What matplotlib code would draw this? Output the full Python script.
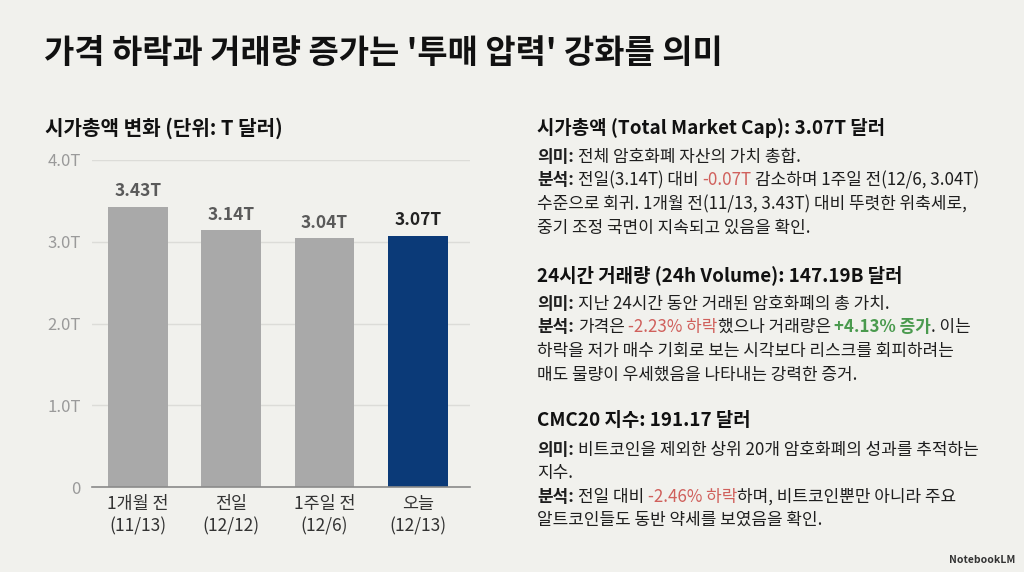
import matplotlib
matplotlib.use("Agg")
import matplotlib.pyplot as plt

plt.rcParams['font.family'] = ['Noto Sans CJK KR', 'DejaVu Sans']

# Data
categories = ['1개월 전\n(11/13)', '전일\n(12/12)', '1주일 전\n(12/6)', '오늘\n(12/13)']
market_cap = [3.43, 3.14, 3.04, 3.07]
bar_labels = ['3.43T', '3.14T', '3.04T', '3.07T']
yticks = [0, 1, 2, 3, 4]
ytick_labels = ['0', '1.0T', '2.0T', '3.0T', '4.0T']

title = "가격 하락과 거래량 증가는 '투매 압력' 강화를 의미"
chart_title = "시가총액 변화 (단위: T 달러)"

RED = '#d0605c'
GREEN = '#4a9a4e'
DARK = '#1e1e1e'

# right side text blocks: (heading, [lines of runs])
sections = [
    ("시가총액 (Total Market Cap): 3.07T 달러", [
        [("의미:", DARK, 'bold'), (" 전체 암호화폐 자산의 가치 총합.", DARK, 'normal')],
        [("분석:", DARK, 'bold'), (" 전일(3.14T) 대비 ", DARK, 'normal'), ("-0.07T", RED, 'normal'),
         (" 감소하며 1주일 전(12/6, 3.04T)", DARK, 'normal')],
        [("수준으로 회귀. 1개월 전(11/13, 3.43T) 대비 뚜렷한 위축세로,", DARK, 'normal')],
        [("중기 조정 국면이 지속되고 있음을 확인.", DARK, 'normal')],
    ]),
    ("24시간 거래량 (24h Volume): 147.19B 달러", [
        [("의미:", DARK, 'bold'), (" 지난 24시간 동안 거래된 암호화폐의 총 가치.", DARK, 'normal')],
        [("분석:", DARK, 'bold'), (" 가격은 ", DARK, 'normal'), ("-2.23% 하락", RED, 'normal'),
         ("했으나 거래량은 ", DARK, 'normal'), ("+4.13% 증가", GREEN, 'bold'), (". 이는", DARK, 'normal')],
        [("하락을 저가 매수 기회로 보는 시각보다 리스크를 회피하려는", DARK, 'normal')],
        [("매도 물량이 우세했음을 나타내는 강력한 증거.", DARK, 'normal')],
    ]),
    ("CMC20 지수: 191.17 달러", [
        [("의미:", DARK, 'bold'), (" 비트코인을 제외한 상위 20개 암호화폐의 성과를 추적하는", DARK, 'normal')],
        [("지수.", DARK, 'normal')],
        [("분석:", DARK, 'bold'), (" 전일 대비 ", DARK, 'normal'), ("-2.46% 하락", RED, 'normal'),
         ("하며, 비트코인뿐만 아니라 주요", DARK, 'normal')],
        [("알트코인들도 동반 약세를 보였음을 확인.", DARK, 'normal')],
    ]),
]
heading_y = [128, 275, 421]
line_y = [[157, 180, 204, 228], [304, 327, 351, 375], [450, 473, 497, 520]]

W, H = 1024, 572
BG = '#f1f1ed'

fig = plt.figure(figsize=(W / 100, H / 100), dpi=100, facecolor=BG)
renderer = fig.canvas.get_renderer()


def fy(py):
    return 1 - py / H


# Title
fig.text(44 / W, fy(53), title, fontsize=23.7, fontweight='bold', color='#111111', va='center')
fig.text(45 / W, fy(128), chart_title, fontsize=14.5, fontweight='bold', color='#111111', va='center')

# Bar chart
ax = fig.add_axes([92 / W, fy(487), (470 - 92) / W, (487 - 160) / H])
ax.set_facecolor(BG)
colors = ['#a9a9a9', '#a9a9a9', '#a9a9a9', '#0b3a78']
x = range(len(categories))
ax.bar(x, market_cap, width=0.64, color=colors, zorder=3)
for i, v in enumerate(market_cap):
    ax.text(i, v + 0.08, bar_labels[i], ha='center', va='bottom', fontsize=12.5, fontweight='bold',
            color='#222222' if i == 3 else '#5a5a5a')
ax.set_xlim(-0.49, 3.56)
ax.set_ylim(0, 4.0)
ax.set_yticks(yticks)
ax.set_yticklabels(ytick_labels, color='#9a9a9a', fontsize=12)
ax.set_xticks(list(x))
ax.set_xticklabels(categories, color='#333333', fontsize=12.5, linespacing=1.3)
ax.tick_params(length=0, pad=8)
ax.tick_params(axis='x', pad=6)
ax.grid(axis='y', color='#dcdcd8', linewidth=1, zorder=0)
for s in ['top', 'right', 'left']:
    ax.spines[s].set_visible(False)
ax.spines['bottom'].set_color('#8a8a8a')
ax.spines['bottom'].set_linewidth(1.2)
ax.spines['bottom'].set_zorder(4)


def text_width(s, size, weight):
    t = fig.text(0, 0, s, fontsize=size, fontweight=weight)
    w = t.get_window_extent(renderer).width
    t.remove()
    return w


def draw_runs(px, py, runs, size):
    space = text_width('가 가', size, 'normal') - text_width('가가', size, 'normal')
    for txt, color, weight in runs:
        lead = len(txt) - len(txt.lstrip(' '))
        trail = len(txt) - len(txt.rstrip(' '))
        core = txt.strip(' ')
        px += lead * space
        t = fig.text(px / W, fy(py), core, fontsize=size, fontweight=weight, color=color, va='baseline')
        px += t.get_window_extent(renderer).width
        px += trail * space


# Right text
for (head, lines), hy, ly in zip(sections, heading_y, line_y):
    fig.text(537 / W, fy(hy), head, fontsize=13.6, fontweight='bold', color='#111111', va='center')
    for runs, y in zip(lines, ly):
        draw_runs(537, y + 5, runs, 12.2)

fig.text(1015 / W, fy(560), "NotebookLM", fontsize=7.5, color='#333333', ha='right', va='center',
         fontweight='bold')

fig.savefig("out.png", dpi=100, facecolor=BG)
